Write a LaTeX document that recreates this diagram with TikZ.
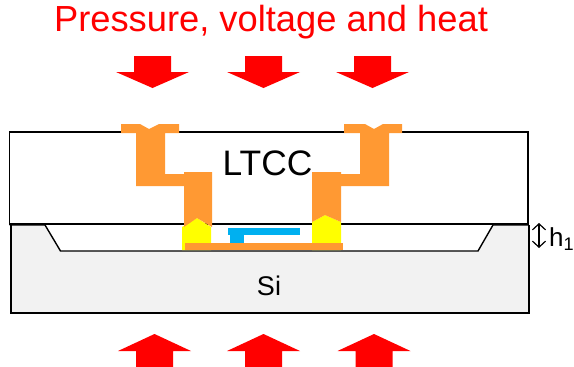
\documentclass[tikz,border=0pt]{standalone}
\usepackage{fontspec}
\setmainfont{Liberation Sans}
\usetikzlibrary{arrows.meta,positioning}
\definecolor{viaorange}{HTML}{FF9933}
\definecolor{gapblue}{HTML}{00B0F0}
\definecolor{sigray}{HTML}{F2F2F2}
\definecolor{bumpyellow}{HTML}{FFFF00}
\tikzset{
  waferline/.style={draw=black,line width=1.4pt,line join=miter},
  viametal/.style={fill=viaorange,draw=none},
  bump/.style={fill=bumpyellow,draw=none},
  beam/.style={fill=gapblue,draw=none},
  forcearrow/.style={fill=red,draw=none},
  dimarrow/.style={{Straight Barb[length=6pt,width=13pt]}-{Straight Barb[length=6pt,width=13pt]},line width=1.2pt},
}

\begin{document}
\begin{tikzpicture}[x=1pt,y=-1pt]
  \useasboundingbox (0,0) rectangle (574,367);

  % Si wafer with cavity
  \path[fill=sigray] (11,225) -- (45,225) -- (60.5,251) -- (478,251) -- (493,225) -- (529,225)
    -- (529,313) -- (11,313) -- cycle;
  \draw[waferline] (11,225) -- (11,313) -- (529,313) -- (529,225);
  \draw[waferline] (9.5,225) -- (45,225) -- (60.5,251) -- (478,251) -- (493,225) -- (528,225);

  % LTCC
  \draw[line width=1.1pt] (9.5,132) rectangle (528,224);

  % bumps
  \path[bump] (182,250) -- (182,227) -- (197,218) -- (211,227) -- (211,250) -- cycle;
  \path[bump] (312,250) -- (312,222) -- (325,215) -- (341,222) -- (341,250) -- cycle;

  % vias
  \path[viametal] (121,124) -- (140,124) -- (149,129) -- (159,124) -- (179,124) -- (179,133)
    -- (165,133) -- (165,174) -- (184,174) -- (184,172) -- (212,172) -- (212,227) -- (197,218)
    -- (184,227) -- (184,186) -- (136,186) -- (136,133) -- (121,133) -- cycle;
  \path[viametal] (344,124) -- (365,124) -- (374,129) -- (383,124) -- (402,124) -- (402,133)
    -- (389,133) -- (389,186) -- (341,186) -- (341,222) -- (325,215) -- (312,222) -- (312,172)
    -- (341,172) -- (341,174) -- (360,174) -- (360,133) -- (344,133) -- cycle;

  % electrode and beam
  \path[viametal] (185,243) rectangle (343,250);
  \path[beam] (228,228) rectangle (300,235);
  \path[beam] (230,235) rectangle (244,243);

  % force arrows
  \foreach \xc in {152.5,263.5,372.5}
    \path[forcearrow] (\xc-18.5,56) -- (\xc+18.5,56) -- (\xc+18.5,72) -- (\xc+36.5,72)
      -- (\xc,88) -- (\xc-36.5,72) -- (\xc-18.5,72) -- cycle;
  \foreach \xc in {154.5,263.5,374}
    \path[forcearrow] (\xc-18.5,367) -- (\xc+18.5,367) -- (\xc+18.5,351) -- (\xc+36.5,351)
      -- (\xc,334) -- (\xc-36.5,351) -- (\xc-18.5,351) -- cycle;

  % labels
  \node[font=\fontsize{36.3}{36}\selectfont,inner sep=0pt,text=red] (title) at (271,22) {Pressure, voltage and heat};
  \node[font=\fontsize{35.4}{36}\selectfont,inner sep=0pt] (ltcc) at (267.5,163) {LTCC};
  \node[font=\fontsize{27}{27}\selectfont,inner sep=0pt] (si) at (269,286) {Si};
  \node[font=\fontsize{26}{26}\selectfont,inner sep=0pt,anchor=west] (hone) at (549,239) {h$_{\mathrm{1}}$};

  \coordinate (htop) at (539,223);
  \coordinate (hbot) at (539,248);
  \draw[dimarrow] (htop) -- (hbot);
\end{tikzpicture}
\end{document}
